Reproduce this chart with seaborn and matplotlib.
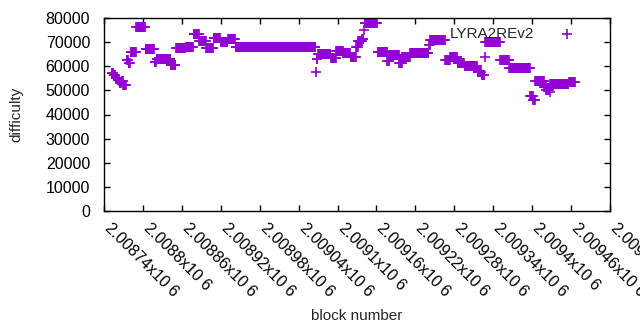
import numpy as np
import pandas as pd
import matplotlib
matplotlib.use("Agg")
import matplotlib.pyplot as plt
import seaborn as sns

# difficulty per block, stored as runs of equal difficulty
first_block = 2008752
difficulty = [57300, 56200, 55300, 54300, 53200, 53800, 52200, 62600, 61200, 65900,
              76300, 67100, 61800, 63000, 60500, 67600, 68000, 73400, 70500, 67600,
              71700, 70000, 71300, 67800, 57600, 63000, 65100, 63400, 66300, 65500,
              63800, 68000, 70500, 71500, 75000, 78000, 65900, 62200, 64700, 61500,
              63800, 65500, 68800, 70900, 62600, 63800, 61300, 60100, 57600, 56400,
              63800, 70000, 62600, 59300, 47500, 46200, 53900, 51400, 50200, 49300,
              52600, 53500]
run_length = [3, 3, 3, 3, 3, 3, 5, 3, 3, 9,
              14, 14, 3, 22, 8, 15, 12, 9, 11, 11,
              11, 11, 12, 124, 1, 2, 20, 8, 11, 11,
              9, 3, 6, 3, 1, 20, 15, 3, 15, 5,
              12, 29, 2, 23, 8, 11, 11, 20, 6, 5,
              1, 23, 14, 32, 5, 3, 14, 3, 5, 1,
              29, 10]

x_ticks = list(range(2008740, 2009521, 60))

blocks = first_block + np.arange(sum(run_length))
df = pd.DataFrame({"block": blocks, "difficulty": np.repeat(difficulty, run_length)})

sns.set_style("ticks")
plt.rcParams["font.family"] = ["Liberation Sans", "DejaVu Sans"]
plt.rcParams["font.size"] = 11

fig = plt.figure(figsize=(6.4, 3.3), dpi=100)
ax = fig.add_axes([104 / 640, 1 - 211 / 330, 506 / 640, 193 / 330])

sns.scatterplot(data=df, x="block", y="difficulty", marker="+", color="#9400d3",
                s=55, linewidth=1.2, label="LYRA2REv2", ax=ax)

ax.set_xlim(2008740, 2009520)
ax.set_ylim(0, 80000)
ax.set_yticks(range(0, 80001, 10000))
ax.set_xticks(x_ticks)
ax.set_xticklabels([f"{v / 1e6:g}x10 6" for v in x_ticks], rotation=-45,
                   ha="left", va="baseline", rotation_mode="anchor")
ax.tick_params(direction="in", length=4, width=1, top=True, right=True,
               labelsize=11.5, colors="black")
ax.tick_params(axis="x", pad=13)
ax.tick_params(axis="y", pad=10)
for s in ax.spines.values():
    s.set_linewidth(1)
    s.set_color("black")

ax.set_xlabel("block number", fontsize=11, labelpad=7)
ax.set_ylabel("difficulty", fontsize=11, labelpad=16)

ax.legend(loc="upper right", bbox_to_anchor=(0.964, 1.0), frameon=False,
          markerfirst=False, handletextpad=1.2, fontsize=11, borderaxespad=0.2)

fig.savefig("out.png", dpi=100)
